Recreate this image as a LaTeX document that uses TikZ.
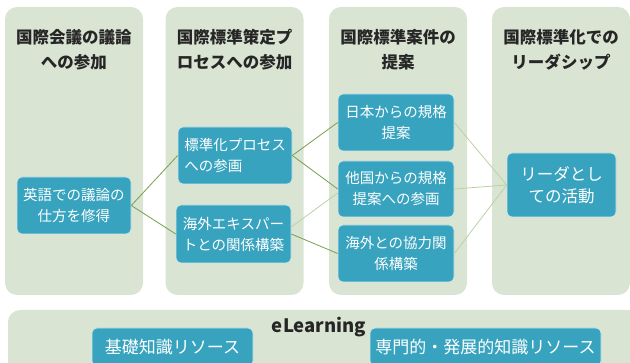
\documentclass[tikz,border=0pt]{standalone}
\usepackage{fontspec}
\setmainfont{Noto Sans CJK JP}
\definecolor{panelbg}{HTML}{D9E4D2}
\definecolor{tilebg}{HTML}{38A3BE}
\definecolor{linkdark}{HTML}{76A04E}
\definecolor{linklight}{HTML}{B9D3A3}

\begin{document}
\begin{tikzpicture}[x=1pt, y=-1pt,
    panel/.style={fill=panelbg, rounded corners=12pt, inner sep=0pt,
        minimum width=138pt, minimum height=288pt},
    head/.style={align=center, text=black!85,
        font=\bfseries\fontsize{16.5}{25}\selectfont},
    tile/.style={fill=tilebg, draw=white!75!tilebg, line width=0.6pt,
        rounded corners=5pt, text=white, align=center, inner sep=0pt,
        font=\fontsize{14.5}{21}\selectfont},
    link/.style={linkdark, line width=0.8pt},
    weak/.style={linklight, line width=0.8pt}]
    \useasboundingbox (0,0) rectangle (630,363);
    \clip (0,0) rectangle (630,363);

    \node[panel] (col1) at (74,151) {};
    \node[panel] (col2) at (234.5,151) {};
    \node[panel] (col3) at (398,151) {};
    \node[panel] (col4) at (561,151) {};
    \node[panel, minimum width=642pt, minimum height=70pt] (band) at (329,345) {};

    \node[head] (head1) at (74,49.5) {国際会議の議論\\への参加};
    \node[head] (head2) at (234.5,49.5) {国際標準策定プ\\ロセスへの参加};
    \node[head] (head3) at (398,49.5) {国際標準案件の\\提案};
    \node[head] (head4) at (561,49.5) {国際標準化での\\リーダシップ};
    \node[head, font=\bfseries\fontsize{18.5}{20}\selectfont] (elearn) at (319,327) {eLearning};

    \node[tile, minimum width=114pt, minimum height=57pt] (english) at (74,205.5) {英語での議論の\\仕方を修得};
    \node[tile, minimum width=114pt, minimum height=57pt, align=left] (process) at (235,155.5) {標準化プロセス\\への参画};
    \node[tile, minimum width=115pt, minimum height=58pt] (expert) at (233.5,234) {海外エキスパー\\トとの関係構築};
    \node[tile, minimum width=116pt, minimum height=57pt] (japan) at (396,122.5) {日本からの規格\\提案};
    \node[tile, minimum width=116pt, minimum height=56pt] (other) at (396,189) {他国からの規格\\提案への参画};
    \node[tile, minimum width=116pt, minimum height=57pt] (partner) at (396,253.5) {海外との協力関\\係構築};
    \node[tile, minimum width=109pt, minimum height=64pt,
        font=\fontsize{16.5}{22}\selectfont] (leader) at (561.5,185) {リーダとし\\ての活動};
    \node[tile, minimum width=161pt, minimum height=38pt,
        font=\fontsize{17}{20}\selectfont] (basic) at (172.5,347) {基礎知識リソース};
    \node[tile, minimum width=231pt, minimum height=38pt,
        font=\fontsize{17}{20}\selectfont] (expertres) at (485.5,347) {専門的・発展的知識リソース};

    \draw[link] (english.east) -- (process.west);
    \draw[link] (english.east) -- (expert.west);
    \draw[link] (process.east) -- (japan.west);
    \draw[link] (process.east) -- (other.west);
    \draw[weak] ([yshift=7pt]expert.east) -- ([yshift=-4pt]other.west);
    \draw[link] (expert.east) -- (partner.west);
    \draw[weak] (japan.east) -- (leader.west);
    \draw[weak] (other.east) -- (leader.west);
    \draw[weak] (partner.east) -- (leader.west);
\end{tikzpicture}
\end{document}
